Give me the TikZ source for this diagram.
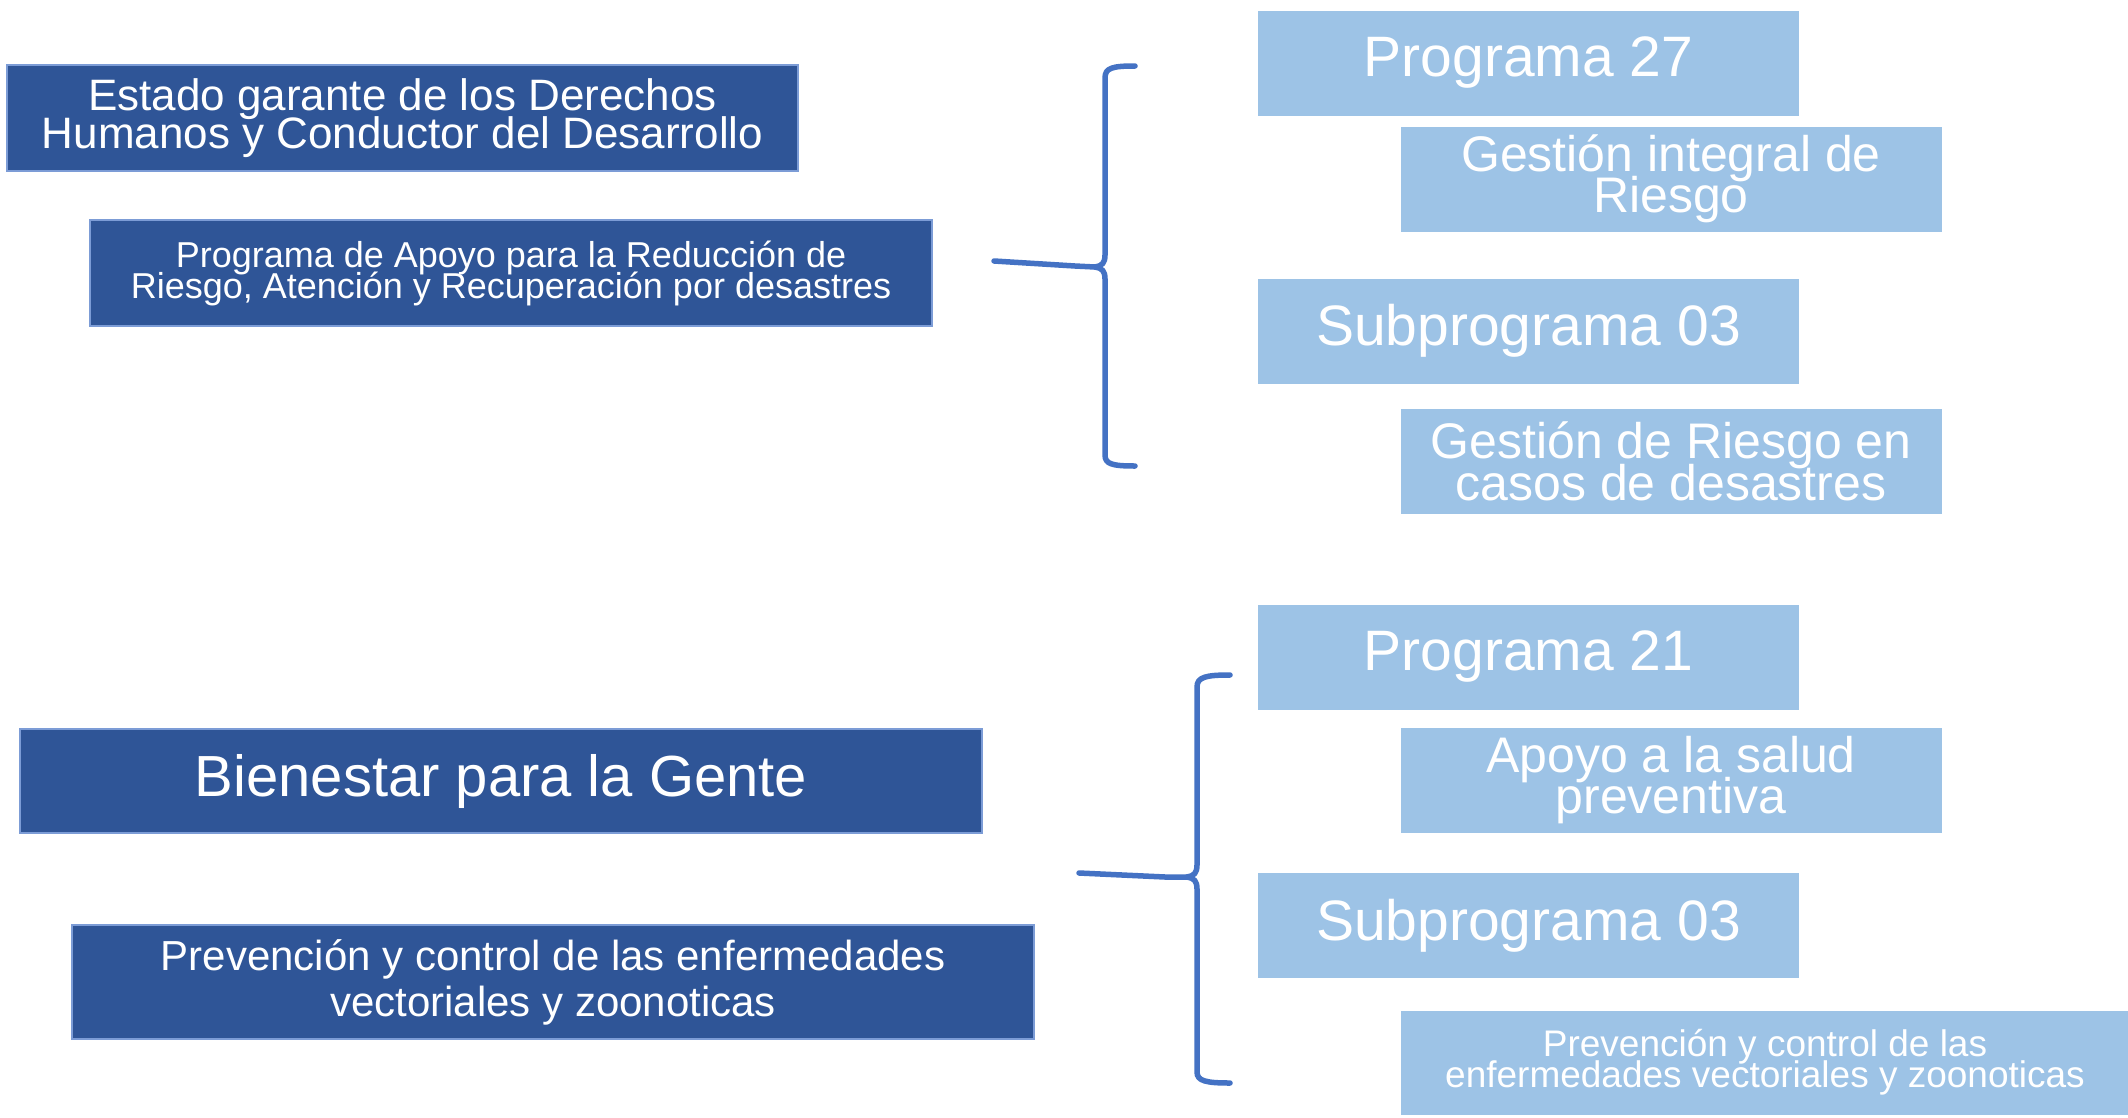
\documentclass[tikz,border=0pt]{standalone}
\usepackage{fontspec}
\setmainfont{Liberation Sans}
\definecolor{darkfill}{HTML}{2F5597}
\definecolor{lightfill}{HTML}{9DC3E6}
\definecolor{bracecol}{HTML}{4472C4}
\newcommand\myfs[2]{\fontsize{#1}{#2}\selectfont\lineskiplimit=-1000pt\relax}
\begin{document}
\begin{tikzpicture}[x=1pt,y=-1pt,
 darkbox/.style={fill=darkfill,draw=bracecol!70,line width=1.5pt,text=white,align=center,inner sep=0pt},
 lightbox/.style={fill=lightfill,draw=white,line width=1pt,text=white,align=center,inner sep=0pt,minimum height=106pt},
 bracket/.style={draw=bracecol,line width=5.5pt,line cap=round,line join=round}]
\useasboundingbox[fill=white] (0,0) rectangle (2128,1117);

% left dark boxes
\node[darkbox,minimum width=791pt,minimum height=106pt,font=\myfs{44}{38}] (estado) at (402.5,118) {Estado garante de los Derechos\\Humanos y Conductor del Desarrollo};
\node[darkbox,minimum width=842pt,minimum height=106pt,font=\myfs{36}{31}] (apoyo) at (511,273) {Programa de Apoyo para la Reducción de\\Riesgo, Atención y Recuperación por desastres};
\node[darkbox,minimum width=962pt,minimum height=104pt,font=\myfs{58}{60}] (bienestar) at (501,781) {Bienestar para la Gente};
\node[darkbox,minimum width=962pt,minimum height=114pt,font=\myfs{42}{46}] (prevdark) at (553,982) {Prevención y control de las enfermedades\\vectoriales y zoonoticas};

% right light boxes
\node[lightbox,minimum width=542pt,font=\myfs{57}{60}] (p27) at (1528.5,63) {Programa 27};
\node[lightbox,minimum width=542pt,font=\myfs{50}{41}] (gi) at (1671,179) {Gestión integral de\\Riesgo};
\node[lightbox,minimum width=542pt,font=\myfs{57}{60}] (s03a) at (1528.5,331) {Subprograma 03};
\node[lightbox,minimum width=542pt,font=\myfs{50}{42}] (gr) at (1671,461) {Gestión de Riesgo en\\casos de desastres};
\node[lightbox,minimum width=542pt,font=\myfs{57}{60}] (p21) at (1528.5,657) {Programa 21};
\node[lightbox,minimum width=542pt,font=\myfs{50}{41}] (as) at (1671,780) {Apoyo a la salud\\preventiva};
\node[lightbox,minimum width=542pt,font=\myfs{57}{60}] (s03b) at (1528.5,925.5) {Subprograma 03};
\node[lightbox,minimum width=730pt,minimum height=105pt,font=\myfs{37}{31}] (prevlight) at (1765,1062.5) {Prevención y control de las\\enfermedades vectoriales y zoonoticas};

% bracket 1
\coordinate (b1in) at (994,261);
\coordinate (b1tip) at (1095,267);
\coordinate (b1top) at (1135,66);
\coordinate (b1bot) at (1135,466);
\draw[bracket] (b1top) .. controls (1112,66) and (1105,68) .. (1105,78) -- (1105,255) .. controls (1105,263) and (1102,266) .. (b1tip) .. controls (1102,268) and (1105,271) .. (1105,279) -- (1105,455) .. controls (1105,464) and (1112,466) .. (b1bot);
\draw[bracket] (b1in) -- (1075,266) -- (b1tip);

% bracket 2
\coordinate (b2in) at (1079,873);
\coordinate (b2tip) at (1187,877);
\coordinate (b2top) at (1230,675);
\coordinate (b2bot) at (1230,1083);
\draw[bracket] (b2top) .. controls (1206,675) and (1197,677) .. (1197,687) -- (1197,865) .. controls (1197,873) and (1194,876) .. (b2tip) .. controls (1194,878) and (1197,881) .. (1197,889) -- (1197,1072) .. controls (1197,1081) and (1206,1083) .. (b2bot);
\draw[bracket] (b2in) -- (1165,877) -- (b2tip);
\end{tikzpicture}
\end{document}
